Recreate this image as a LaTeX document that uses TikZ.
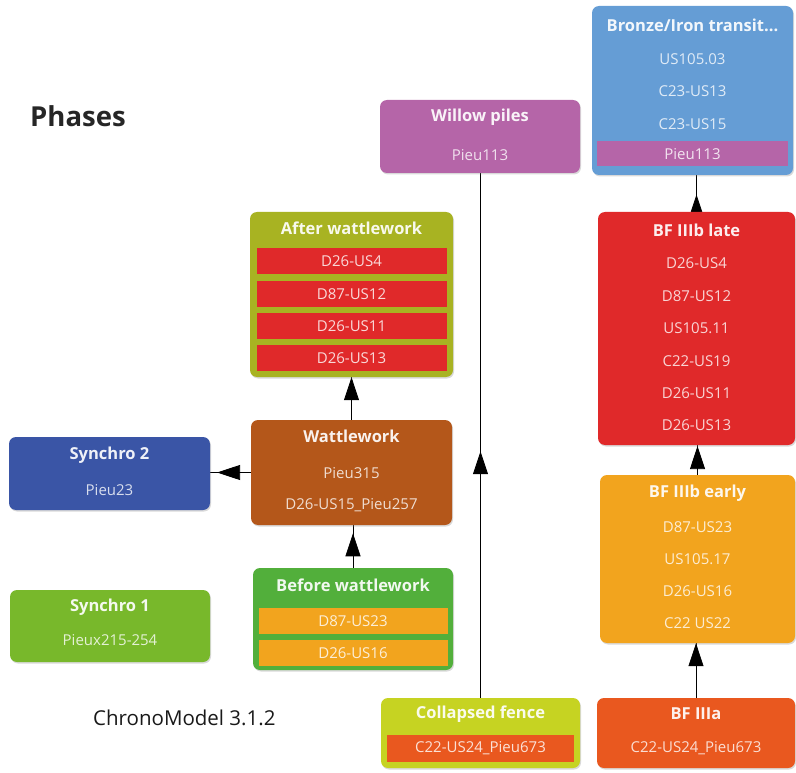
\documentclass[tikz,border=0pt]{standalone}
\usepackage{fontspec}
\setmainfont{Open Sans}
\usetikzlibrary{arrows.meta}
\usetikzlibrary{shadows}
\usetikzlibrary{backgrounds}
\usetikzlibrary{decorations.markings}

\definecolor{bronzeblue}{HTML}{659DD5}
\definecolor{willowpink}{HTML}{B565A8}
\definecolor{afterolive}{HTML}{A8B322}
\definecolor{lateRed}{HTML}{E0292A}
\definecolor{wattlebrown}{HTML}{B4571A}
\definecolor{synchroblue}{HTML}{3A55A6}
\definecolor{beforegreen}{HTML}{52AF3B}
\definecolor{earlyorange}{HTML}{F2A41E}
\definecolor{synchrogreen}{HTML}{78B82B}
\definecolor{fenceyellow}{HTML}{C6D322}
\definecolor{iiiaorange}{HTML}{E9581F}

\begin{document}
\begin{tikzpicture}
[x=1pt,y=-1pt,%
  phase/.style={rectangle,rounded corners=7pt,draw=none,inner sep=0pt,%
    drop shadow={shadow xshift=1pt,shadow yshift=-1.5pt,opacity=0.3}},%
  band/.style={rectangle,inner sep=0pt,minimum width=190pt,minimum height=26pt,%
    font=\fontsize{15}{18}\selectfont,text=white,text opacity=0.82},%
  title/.style={inner sep=0pt,font=\fontsize{16.5}{20}\selectfont\bfseries,text=white,text opacity=0.92},%
  item/.style={inner sep=0pt,font=\fontsize{15}{18}\selectfont,text=white,text opacity=0.8},%
  link/.style={line width=0.8pt,black,postaction={decorate},%
    decoration={markings,mark=at position #1 with {\arrow{Triangle[length=23pt,width=15pt]}}}}]
\useasboundingbox (0,0) rectangle (796,773);

\node[anchor=west,inner sep=0pt,font=\fontsize{27.5}{32}\selectfont\bfseries,text=black!85] (phases) at (30,116) {Phases};
\node[anchor=west,inner sep=0pt,font=\fontsize{20.5}{24}\selectfont,text=black!90] (version) at (93,718) {ChronoModel 3.1.2};

% Bronze/Iron transition
\node[phase,fill=bronzeblue,minimum width=201pt,minimum height=169pt] (bronze) at (692.5,90.5) {};
\node[title] (bronzeT) at (692.5,25) {Bronze/Iron transit...};
\node[item] (bronze1) at (692.5,59) {US105.03};
\node[item] (bronze2) at (692.5,91) {C23-US13};
\node[item] (bronze3) at (692.5,124) {C23-US15};
\node[band,fill=willowpink,minimum width=191pt,minimum height=25pt] (bronze4) at (692.5,154) {Pieu113};

% Willow piles
\node[phase,fill=willowpink,minimum width=200pt,minimum height=73pt] (willow) at (480,136.5) {};
\node[title] (willowT) at (480,117) {Willow piles};
\node[item] (willow1) at (480,155) {Pieu113};

% After wattlework
\node[phase,fill=afterolive,minimum width=203pt,minimum height=165pt] (after) at (351.5,294.5) {};
\node[title] (afterT) at (351.5,228) {After wattlework};
\node[band,fill=lateRed] (after1) at (351.5,261) {D26-US4};
\node[band,fill=lateRed] (after2) at (351.5,294) {D87-US12};
\node[band,fill=lateRed] (after3) at (351.5,326) {D26-US11};
\node[band,fill=lateRed] (after4) at (351.5,358) {D26-US13};

% Wattlework
\node[phase,fill=wattlebrown,minimum width=201pt,minimum height=105pt] (watt) at (351.5,472.5) {};
\node[title] (wattT) at (351.5,436) {Wattlework};
\node[item] (watt1) at (351.5,473) {Pieu315};
\node[item] (watt2) at (351.5,505) {D26-US15\_Pieu257};

% Synchro 2
\node[phase,fill=synchroblue,minimum width=201pt,minimum height=73pt] (syntwo) at (109.5,473.5) {};
\node[title] (syntwoT) at (109.5,455) {Synchro 2};
\node[item] (syntwo1) at (109.5,490) {Pieu23};

% Before wattlework
\node[phase,fill=beforegreen,minimum width=200pt,minimum height=102pt] (before) at (353,619) {};
\node[title] (beforeT) at (353,585) {Before wattlework};
\node[band,fill=earlyorange,minimum width=189pt] (before1) at (353,621) {D87-US23};
\node[band,fill=earlyorange,minimum width=189pt] (before2) at (353,653) {D26-US16};

% Synchro 1
\node[phase,fill=synchrogreen,minimum width=200pt,minimum height=72pt] (synone) at (110,626) {};
\node[title] (synoneT) at (110,607) {Synchro 1};
\node[item] (synone1) at (110,640) {Pieux215-254};

% Collapsed fence
\node[phase,fill=fenceyellow,minimum width=199pt,minimum height=70pt] (fence) at (480.5,733) {};
\node[title] (fenceT) at (480.5,714) {Collapsed fence};
\node[band,fill=iiiaorange,minimum width=187pt,minimum height=27pt] (fence1) at (480.5,748) {C22-US24\_Pieu673};

% BF IIIa
\node[phase,fill=iiiaorange,minimum width=198pt,minimum height=70pt] (iiia) at (696,733) {};
\node[title] (iiiaT) at (696,714) {BF IIIa};
\node[item] (iiia1) at (696,748) {C22-US24\_Pieu673};

% BF IIIb early
\node[phase,fill=earlyorange,minimum width=195pt,minimum height=168pt] (early) at (697.5,559) {};
\node[title] (earlyT) at (697.5,493) {BF IIIb early};
\node[item] (early1) at (697.5,527) {D87-US23};
\node[item] (early2) at (697.5,559) {US105.17};
\node[item] (early3) at (697.5,591) {D26-US16};
\node[item] (early4) at (697.5,623) {C22 US22};

% BF IIIb late
\node[phase,fill=lateRed,minimum width=197pt,minimum height=233pt] (late) at (696.5,328.5) {};
\node[title] (lateT) at (696.5,230) {BF IIIb late};
\node[item] (late1) at (696.5,263) {D26-US4};
\node[item] (late2) at (696.5,296) {D87-US12};
\node[item] (late3) at (696.5,328) {US105.11};
\node[item] (late4) at (696.5,361) {C22-US19};
\node[item] (late5) at (696.5,393) {D26-US11};
\node[item] (late6) at (696.5,425) {D26-US13};

% connectors, behind the boxes
\begin{scope}[on background layer]
\draw[link=0.81] (before.north) -- (before.north |- watt.south);
\draw[link=1] (watt.north) -- (watt.north |- after.south);
\draw[link=0.83] (watt.west) -- (watt.west -| syntwo.east);
\draw[link=0.47] (late.north) -- (late.north |- bronze.south);
\draw[link=0.97] (early.north) -- (early.north |- late.south);
\draw[link=1] (iiia.north) -- (iiia.north |- early.south);
\draw[link=0.47] (fence.north) -- (fence.north |- willow.south);
\end{scope}
\end{tikzpicture}
\end{document}
